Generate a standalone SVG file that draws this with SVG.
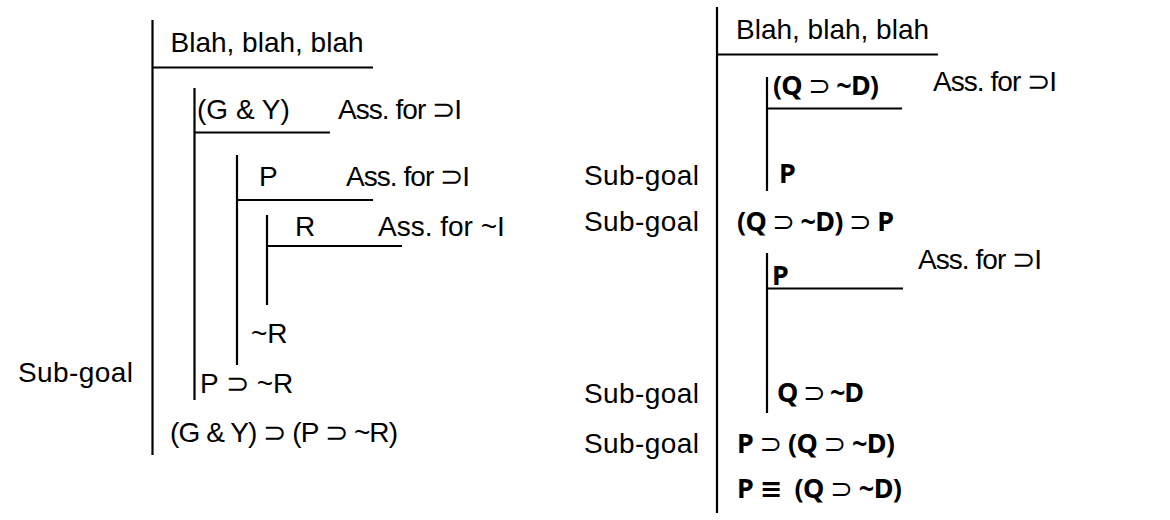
<svg xmlns="http://www.w3.org/2000/svg" width="1170" height="520" viewBox="0 0 1170 520">
<style>
.ln{stroke:#000;stroke-width:2.2;fill:none}
.t{font-family:"Liberation Sans",Arial,sans-serif;font-size:28px;fill:#000}
.b{font-family:"Noto Sans","DejaVu Sans",sans-serif;font-size:27px;font-weight:700;fill:#000}
.n{font-weight:400}
</style>
<rect width="1170" height="520" fill="#fff"/>
<g id="connectors">
<line class="ln" x1="152.5" y1="20" x2="152.5" y2="455"/>
<line class="ln" x1="152" y1="67.5" x2="373" y2="67.5"/>
<line class="ln" x1="194.5" y1="88" x2="194.5" y2="400"/>
<line class="ln" x1="194" y1="132.5" x2="330" y2="132.5"/>
<line class="ln" x1="237" y1="155" x2="237" y2="365"/>
<line class="ln" x1="237" y1="200" x2="373" y2="200"/>
<line class="ln" x1="267" y1="215" x2="267" y2="305"/>
<line class="ln" x1="267" y1="246" x2="402" y2="246"/>
<line class="ln" x1="717" y1="7" x2="717" y2="513"/>
<line class="ln" x1="717" y1="54.5" x2="938" y2="54.5"/>
<line class="ln" x1="767" y1="77" x2="767" y2="191"/>
<line class="ln" x1="767" y1="108.5" x2="902" y2="108.5"/>
<line class="ln" x1="767" y1="253" x2="767" y2="413"/>
<line class="ln" x1="767" y1="288.5" x2="903" y2="288.5"/>
</g>
<g id="left-proof">
<text class="t" x="170.5" y="52">Blah, blah, blah</text>
<text class="t" x="197" y="119">(G &amp; Y)</text>
<text class="t" x="338" y="119" textLength="124">Ass. for ⊃I</text>
<text class="t" x="259" y="186">P</text>
<text class="t" x="346" y="186" textLength="124">Ass. for ⊃I</text>
<text class="t" x="295" y="236">R</text>
<text class="t" x="378" y="236">Ass. for ~I</text>
<text class="t" x="251" y="343">~R</text>
<text class="t" x="200" y="393">P ⊃ ~R</text>
<text class="t" x="18" y="382" textLength="115">Sub-goal</text>
<text class="t" x="170" y="442" textLength="228">(G &amp; Y) ⊃ (P ⊃ ~R)</text>
</g>
<g id="right-proof">
<text class="t" x="736" y="39">Blah, blah, blah</text>
<text class="b" x="773" y="95" textLength="106">(Q <tspan class="n">⊃</tspan> ~D)</text>
<text class="t" x="933" y="91" textLength="124">Ass. for ⊃I</text>
<text class="b" x="779" y="183">P</text>
<text class="t" x="584" y="185" textLength="115">Sub-goal</text>
<text class="t" x="584" y="231" textLength="115">Sub-goal</text>
<text class="b" x="737" y="231" textLength="157">(Q <tspan class="n">⊃</tspan> ~D) <tspan class="n">⊃</tspan> P</text>
<text class="b" x="772" y="285">P</text>
<text class="t" x="918" y="269" textLength="124">Ass. for ⊃I</text>
<text class="t" x="584" y="403" textLength="115">Sub-goal</text>
<text class="b" x="777" y="402" textLength="87">Q <tspan class="n">⊃</tspan> ~D</text>
<text class="t" x="584" y="453" textLength="115">Sub-goal</text>
<text class="b" x="737" y="453" textLength="158">P <tspan class="n">⊃</tspan> (Q <tspan class="n">⊃</tspan> ~D)</text>
<text class="b" x="737" y="498" textLength="165" xml:space="preserve">P ≡  (Q <tspan class="n">⊃</tspan> ~D)</text>
</g>
</svg>
